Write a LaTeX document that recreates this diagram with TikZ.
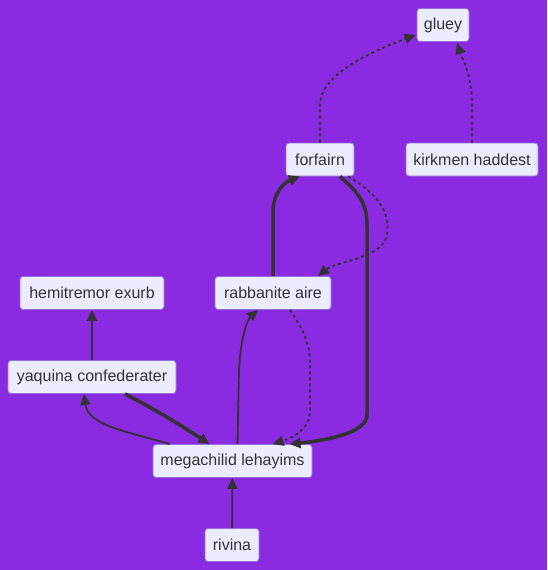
\documentclass[tikz,border=0pt]{standalone}
\usepackage{fontspec}
\setsansfont{Liberation Sans}
\usetikzlibrary{arrows.meta,calc}
\definecolor{bgviolet}{HTML}{8A2BE2}
\definecolor{boxfill}{HTML}{ECECFF}
\definecolor{boxline}{HTML}{9370DB}
\definecolor{edgegray}{HTML}{333333}

\begin{document}
\begin{tikzpicture}[x=1pt, y=-1pt, font=\sffamily\fontsize{16}{19}\selectfont,
    box/.style={draw=boxline, fill=boxfill, text=edgegray, rounded corners=3pt,
      line width=0.8pt, inner sep=0pt, minimum height=33pt},
    link/.style={draw=edgegray, line width=1.8pt, -{Triangle[length=11pt,width=10pt]}},
    heavy/.style={link, line width=3.5pt},
    dots/.style={link, dash pattern=on 3pt off 3pt}]
        \fill[bgviolet] (0,0) rectangle (547,570);
        \node[box, minimum width=52pt] (gluey) at (443,25) {gluey};
        \node[box, minimum width=68pt] (forfairn) at (320,159.5) {forfairn};
        \node[box, minimum width=132pt] (kirkmen) at (472,159.5) {kirkmen haddest};
        \node[box, minimum width=144pt] (hemitremor) at (92,293) {hemitremor exurb};
        \node[box, minimum width=116pt] (rabbanite) at (273,293) {rabbanite aire};
        \node[box, minimum width=168pt] (yaquina) at (92,377) {yaquina confederater};
        \node[box, minimum width=159pt] (megachilid) at (232.5,461) {megachilid lehayims};
        \node[box, minimum width=54pt] (rivina) at (232,545) {rivina};
        % dotted links
        \draw[dots] (forfairn.north) -- (320,105) .. controls (320,75) and (370,52) .. ($(gluey.west)+(-1,10)$);
        \draw[dots] (kirkmen.north) -- (472,105) .. controls (472,75) and (462,58) .. ($(gluey.south)+(14,1)$);
        \draw[dots] ($(forfairn.south)+(28,0)$) .. controls (380,195) and (392,215) .. (386,238)
            .. controls (380,258) and (335,262) .. ($(rabbanite.north)+(45,0)$);
        \draw[dots] ($(rabbanite.south)+(17,0)$) .. controls (300,325) and (310,340) .. (310,365) -- (310,410)
            .. controls (310,430) and (292,438) .. ($(megachilid.north)+(40,0)$);
        % heavy links
        \draw[heavy] (rabbanite.north) -- (273,212) .. controls (273,192) and (285,182) .. ($(forfairn.south)+(-20,0)$);
        \draw[heavy] ($(forfairn.south)+(20,0)$) .. controls (355,190) and (367,200) .. (367,225) -- (367,415)
            .. controls (367,432) and (330,440) .. ($(megachilid.north)+(57,0)$);
        \draw[heavy] ($(yaquina.south)+(33,0)$) .. controls (160,412) and (185,428) .. ($(megachilid.north)+(-23,0)$);
        % plain links
        \draw[link] ($(megachilid.north)+(5,0)$) -- (239,370) .. controls (241,332) and (249,318) .. ($(rabbanite.south)+(-15,0)$);
        \draw[link] ($(megachilid.north)+(-63,0)$) .. controls (130,432) and (88,426) .. ($(yaquina.south)+(-8,0)$);
        \draw[link] (yaquina) -- (hemitremor);
        \draw[link] (rivina) -- (megachilid);
\end{tikzpicture}
\end{document}
